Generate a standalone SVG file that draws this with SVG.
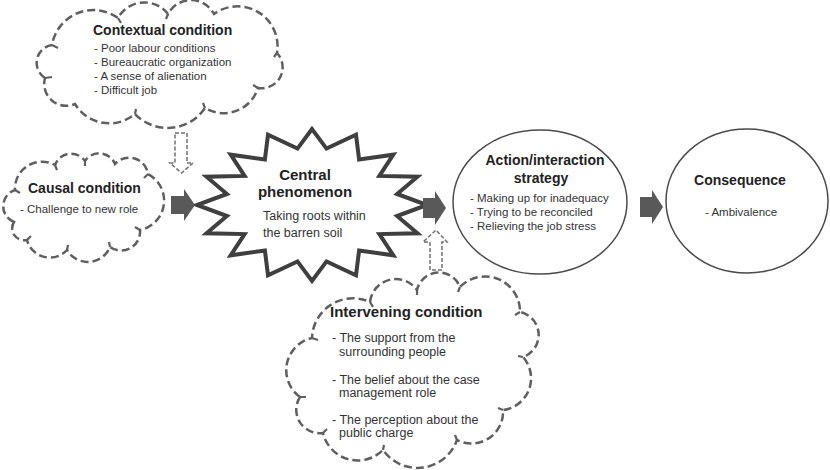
<svg xmlns="http://www.w3.org/2000/svg" width="830" height="470" viewBox="0 0 830 470">
<style>
.cloud{fill:#fff;stroke:#5f5f5f;stroke-width:2.5;stroke-dasharray:8 4;}
.tick{fill:none;stroke:#5f5f5f;stroke-width:2.2;}
.ell{fill:#fff;stroke:#4a4a4a;stroke-width:1.5;}
.star{fill:#fff;stroke:#3f3f3f;stroke-width:4;stroke-linejoin:miter;}
.solid{fill:#595959;stroke:none;}
.dash{fill:#fff;stroke:#707070;stroke-width:1.5;stroke-dasharray:4 2;}
.t{font-family:"Liberation Sans",Arial,sans-serif;fill:#222;}
.h{font-size:14px;font-weight:bold;}
.h2{font-size:15px;font-weight:bold;}
.i{font-size:11.5px;fill:#333;}
.i2{font-size:12.5px;fill:#333;}
</style>
<rect width="830" height="470" fill="#fff"/>
<g id="contextual">
<path class="cloud" d="M45 78 A18 18 0 0 1 52 45 A42 42 0 0 1 118 18 A30 30 0 0 1 168 14 A26 26 0 0 1 214 14 A40 40 0 0 1 277 53 A21 21 0 0 1 258 88 A36 36 0 0 1 205 108 A45 45 0 0 1 135 114 A40 40 0 0 1 75 104 A22 22 0 0 1 45 78 Z"/>
<path class="tick" d="M52 45 l6 3 M118 18 l3 5 M168 14 l-2 5 M277 53 l-3 4 M258 88 l-5 -3 M205 108 l-2 -5 M135 114 l1 -5 M45 78 l7 -1"/>
<text class="t h" x="93" y="35">Contextual condition</text>
<text class="t i" x="94" y="52">- Poor labour conditions</text>
<text class="t i" x="94" y="66">- Bureaucratic organization</text>
<text class="t i" x="94" y="80">- A sense of alienation</text>
<text class="t i" x="94" y="94">- Difficult job</text>
</g>
<g id="causal">
<path class="cloud" d="M14 222 A17 17 0 0 1 15 190 A27 27 0 0 1 55 165 A17 17 0 0 1 85 161 A17 17 0 0 1 115 164 A19 19 0 0 1 148 174 A30 30 0 0 1 140 230 A19 19 0 0 1 110 247 A24 24 0 0 1 67 250 A23.5 23.5 0 0 1 27 240 A12 12 0 0 1 14 222 Z"/>
<path class="tick" d="M15 190 l5 3 M55 165 l2 5 M85 161 l0 5 M148 174 l-4 4 M140 230 l-5 -3 M110 247 l-1 -5 M67 250 l1 -5 M27 240 l4 -4"/>
<text class="t h" x="28" y="193">Causal condition</text>
<text class="t i" x="20" y="213">- Challenge to new role</text>
</g>
<g id="central">
<polygon class="star" points="312.0,129.0 297.5,148.6 268.0,134.8 264.9,159.5 230.7,154.7 244.6,175.9 206.5,176.7 226.9,194.0 197.0,205.0 226.9,216.0 206.5,233.3 244.6,234.1 230.7,255.3 264.9,250.5 268.0,275.2 297.5,261.4 312.0,281.0 326.5,261.4 356.0,275.2 359.1,250.5 393.3,255.3 379.4,234.1 417.5,233.3 397.1,216.0 427.0,205.0 397.1,194.0 417.5,176.7 379.4,175.9 393.3,154.7 359.1,159.5 356.0,134.8 326.5,148.6"/>
<text class="t h2" x="305" y="180" text-anchor="middle">Central</text>
<text class="t h2" x="305" y="197" text-anchor="middle">phenomenon</text>
<text class="t i2" x="263" y="220">Taking roots within</text>
<text class="t i2" x="263" y="237">the barren soil</text>
</g>
<g id="action">
<ellipse class="ell" cx="540" cy="202" rx="87" ry="72"/>
<text class="t h" x="545" y="165" text-anchor="middle">Action/interaction</text>
<text class="t h" x="541" y="183" text-anchor="middle">strategy</text>
<text class="t i" x="470" y="202">- Making up for inadequacy</text>
<text class="t i" x="470" y="216">- Trying to be reconciled</text>
<text class="t i" x="470" y="230">- Relieving the job stress</text>
</g>
<g id="consequence">
<ellipse class="ell" cx="747" cy="201" rx="81" ry="72"/>
<text class="t h" x="740" y="185" text-anchor="middle">Consequence</text>
<text class="t i" x="705" y="216">- Ambivalence</text>
</g>
<g id="intervening">
<path class="cloud" d="M300 397 A33 33 0 0 1 312 338 A41 41 0 0 1 370 302 A26 26 0 0 1 417 290 A22.5 22.5 0 0 1 460 287 A35 35 0 0 1 520 312 A23.4 23.4 0 0 1 523 357 A32 32 0 0 1 503 410 A31.6 31.6 0 0 1 457 440 A42 42 0 0 1 383 450 A35.7 35.7 0 0 1 323 433 A23.5 23.5 0 0 1 300 397 Z"/>
<path class="tick" d="M312 338 l6 2 M370 302 l3 5 M417 290 l0 5 M460 287 l-2 5 M520 312 l-5 3 M523 357 l-5 -1 M503 410 l-5 -2 M457 440 l-2 -5 M383 450 l1 -5 M323 433 l4 -4 M300 397 l6 0"/>
<text class="t h2" x="330" y="317">Intervening condition</text>
<text class="t i2" x="332" y="342">- The support from the</text>
<text class="t i2" x="339" y="356">surrounding people</text>
<text class="t i2" x="332" y="384">- The belief about the case</text>
<text class="t i2" x="339" y="397">management role</text>
<text class="t i2" x="332" y="424">- The perception about the</text>
<text class="t i2" x="339" y="437">public charge</text>
</g>
<g id="connectors">
<path class="dash" d="M175 133 H187 V163 H193 L181.5 173 L170 163 H175 Z"/>
<path class="solid" d="M171 196 H184 V189 L195 205 L184 221 V214 H171 Z"/>
<path class="solid" d="M423 198 H435 V191 L446 208 L435 225 V218 H423 Z"/>
<path class="dash" d="M430 270 V242 H423 L436 230 L447 242 H442 V270 Z"/>
<path class="solid" d="M640 197 H652 V190 L663 207 L652 224 V217 H640 Z"/>
</g>
</svg>
